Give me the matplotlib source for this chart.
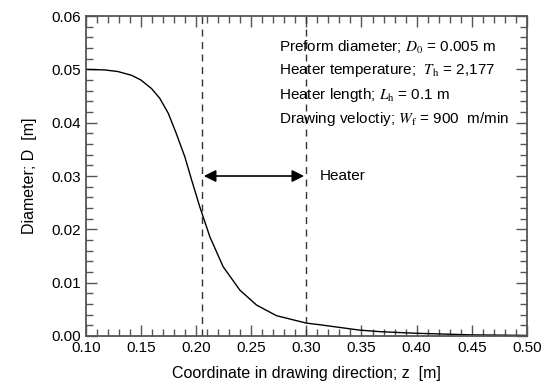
import matplotlib.pyplot as plt
from matplotlib.ticker import MultipleLocator, FormatStrFormatter

plt.rcParams['font.family'] = ['Liberation Sans', 'DejaVu Sans']
plt.rcParams['mathtext.fontset'] = 'stix'

### DATA ###
z = [0.100, 0.117, 0.129, 0.1414, 0.150, 0.1596, 0.167, 0.1747, 0.182,
     0.1898, 0.1959, 0.2034, 0.2125, 0.2245, 0.2397, 0.2548, 0.2729,
     0.3002, 0.3122, 0.348, 0.367, 0.40, 0.45, 0.50]
D = [0.0500, 0.0499, 0.0496, 0.0489, 0.0480, 0.0464, 0.0446, 0.0418, 0.0380,
     0.0336, 0.0293, 0.0242, 0.0186, 0.0130, 0.0086, 0.0058, 0.0038,
     0.0024, 0.0021, 0.0011, 0.0008, 0.0005, 0.0002, 0.0001]

heater_start = 0.205
heater_end = 0.30

info_lines = [
    r'Preform diameter; $\mathit{D}_{\rm 0}$ = 0.005 m',
    r'Heater temperature;  $\mathit{T}_{\rm h}$ = 2,177',
    r'Heater length; $\mathit{L}_{\rm h}$ = 0.1 m',
    r'Drawing veloctiy; $\mathit{W}_{\rm f}$ = 900  m/min',
]

FS = 11

### PLOT ###
fig = plt.figure(figsize=(5.5, 3.92), dpi=100)
ax = fig.add_axes([0.156, 0.143, 0.802, 0.816])

ax.plot(z, D, color='black', lw=1.0)

for xv in (heater_start, heater_end):
    ax.axvline(xv, color='#333333', lw=1.0, ls=(0, (5, 4)))

ax.annotate('', xy=(0.207, 0.03), xytext=(0.298, 0.03),
            arrowprops=dict(arrowstyle='<|-|>', color='black', lw=1.2,
                            mutation_scale=18, shrinkA=0, shrinkB=0))
ax.text(0.312, 0.03, 'Heater', fontsize=FS, va='center', ha='left')

for i, line in enumerate(info_lines):
    ax.text(0.275, 0.0542 - i * 0.0045, line, fontsize=FS, va='center', ha='left')

ax.set_xlim(0.10, 0.50)
ax.set_ylim(0.0, 0.06)
ax.xaxis.set_major_locator(MultipleLocator(0.05))
ax.xaxis.set_minor_locator(MultipleLocator(0.01))
ax.yaxis.set_major_locator(MultipleLocator(0.01))
ax.yaxis.set_minor_locator(MultipleLocator(0.002))
ax.xaxis.set_major_formatter(FormatStrFormatter('%.2f'))
ax.yaxis.set_major_formatter(FormatStrFormatter('%.2f'))

ax.tick_params(which='both', direction='in', top=True, right=True,
               color='#555555', labelsize=FS)
ax.tick_params(which='major', length=8, width=1)
ax.tick_params(which='minor', length=5, width=1)
for s in ax.spines.values():
    s.set_color('#555555')
    s.set_linewidth(1.3)

ax.set_xlabel('Coordinate in drawing direction; z  [m]', fontsize=FS + 0.5, labelpad=8)
ax.set_ylabel('Diameter; D  [m]', fontsize=FS + 0.5, labelpad=10)

fig.savefig('out.png', dpi=100)
